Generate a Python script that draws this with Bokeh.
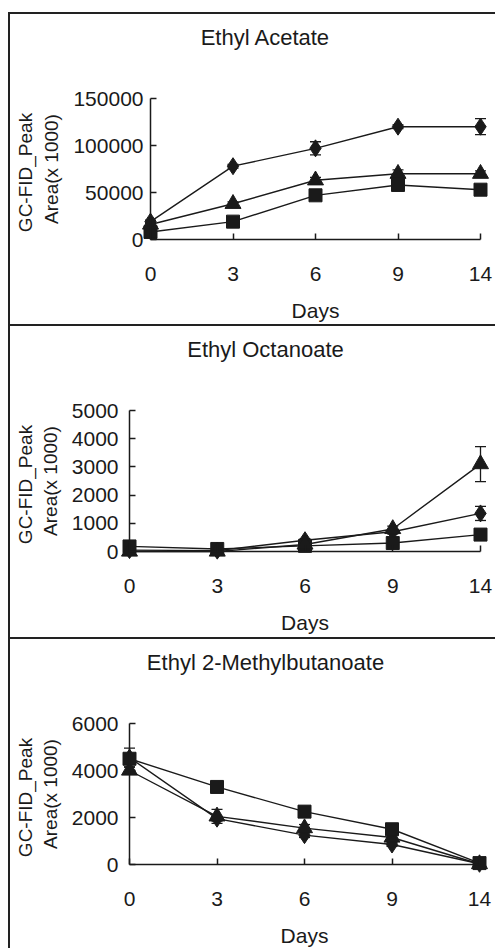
import math
from bokeh.plotting import figure
from bokeh.models import (LinearAxis, FixedTicker, BasicTickFormatter, Range1d,
                          ColumnDataSource, Whisker, TeeHead, Div, Spacer, Label)
from bokeh.layouts import column, row
from bokeh.embed import file_html
from bokeh.resources import INLINE

# ---------------- data ----------------
days = ["0", "3", "6", "9", "14"]

acet_diamond = [19000, 78000, 97000, 120000, 120000]
acet_diamond_err = [1500, 2000, 7000, 2000, 8500]
acet_triangle = [16000, 38000, 63000, 70000, 70000]
acet_triangle_err = [1000, 2000, 3000, 4000, 3000]
acet_square = [8000, 19000, 47000, 58000, 53000]
acet_square_err = [1000, 1000, 2000, 2000, 2000]
acet_yticks = [0, 50000, 100000, 150000]

oct_diamond = [50, 30, 400, 700, 1350]
oct_diamond_err = [20, 20, 50, 80, 250]
oct_triangle = [0, 0, 250, 800, 3100]
oct_triangle_err = [10, 10, 50, 100, 620]
oct_square = [180, 90, 200, 300, 600]
oct_square_err = [20, 20, 30, 40, 60]
oct_yticks = [0, 1000, 2000, 3000, 4000, 5000]

mb_diamond = [4550, 1950, 1250, 850, 30]
mb_diamond_err = [400, 100, 100, 80, 10]
mb_triangle = [4000, 2050, 1550, 1150, 20]
mb_triangle_err = [150, 300, 150, 80, 10]
mb_square = [4500, 3300, 2250, 1500, 60]
mb_square_err = [100, 100, 80, 80, 10]
mb_yticks = [0, 2000, 4000, 6000]

titles = ["Ethyl Acetate", "Ethyl Octanoate", "Ethyl 2-Methylbutanoate"]
x_label = "Days"
y_label_lines = ["GC-FID_Peak", "Area(x 1000)"]

# ---------------- styling ----------------
FONT = "Liberation Sans"
INK = "#1a1a1a"
W = 485
OFFSET_X = 10     # figure left edge in the page
ZERO_Y = 225      # px from figure top of value 0
TOP_Y = 84        # px from figure top of top tick
SIZES = {"diamond": 17, "triangle": 16, "square": 13}


def style_axis(ax):
    ax.axis_line_color = INK
    ax.axis_line_width = 1.5
    ax.major_tick_line_color = INK
    ax.major_tick_line_width = 1.5
    ax.major_tick_in = 6
    ax.major_tick_out = 0
    ax.minor_tick_line_color = None
    ax.major_label_text_font = FONT
    ax.major_label_text_font_size = "21px"
    ax.major_label_text_color = INK
    ax.axis_label_text_font = FONT
    ax.axis_label_text_font_style = "normal"
    ax.axis_label_text_color = INK


def make_panel(title, series, yticks, height, day0_px, step_px, ylab_tick_standoff):
    ymax = yticks[-1]
    pos = list(range(len(days)))
    x0 = day0_px - OFFSET_X
    xs = (0 - x0) / step_px
    xe = (W - x0) / step_px
    scale = (ZERO_Y - TOP_Y) / ymax
    ys = (ZERO_Y - height) / scale
    ye = ZERO_Y / scale

    p = figure(width=W, height=height, output_backend="svg", toolbar_location=None,
               x_axis_location=None, y_axis_location=None,
               x_range=Range1d(xs, xe), y_range=Range1d(ys, ye),
               min_border=0)
    p.outline_line_color = None
    p.background_fill_color = "white"
    p.border_fill_color = "white"
    for g in p.grid:
        g.visible = False

    # title (screen units: from frame left / frame bottom)
    p.add_layout(Label(x=265 - OFFSET_X, y=height - 23, x_units="screen", y_units="screen",
                       text=title, text_align="center", text_baseline="middle",
                       text_font=FONT, text_font_size="22px", text_color=INK))

    xaxis = LinearAxis(fixed_location=0, bounds=(0, len(days) - 1),
                       ticker=FixedTicker(ticks=pos),
                       major_label_overrides={i: d for i, d in enumerate(days)})
    xaxis.axis_label = x_label
    style_axis(xaxis)
    xaxis.major_label_standoff = 27
    xaxis.axis_label_text_font_size = "21px"
    xaxis.axis_label_standoff = 15

    yaxis = LinearAxis(fixed_location=0, bounds=(0, ymax),
                       ticker=FixedTicker(ticks=yticks),
                       formatter=BasicTickFormatter(use_scientific=False))
    yaxis.axis_label = y_label_lines[1]
    style_axis(yaxis)
    yaxis.major_label_standoff = ylab_tick_standoff
    yaxis.axis_label_text_font_size = "19px"
    yaxis.axis_label_standoff = 8

    p.add_layout(xaxis, "below")
    p.add_layout(yaxis, "left")

    # outer line of the two-line y label
    p.add_layout(Label(x=25 - OFFSET_X, y=height - 158,
                       x_units="screen", y_units="screen",
                       text=y_label_lines[0], angle=math.pi / 2,
                       text_align="center", text_baseline="middle",
                       text_font=FONT, text_font_size="19px", text_color=INK))

    for marker, vals, errs in series:
        src = ColumnDataSource(dict(x=pos, y=vals,
                                    upper=[v + e for v, e in zip(vals, errs)],
                                    lower=[v - e for v, e in zip(vals, errs)]))
        w = Whisker(source=src, base="x", upper="upper", lower="lower",
                    line_color=INK, line_width=1.3,
                    upper_head=TeeHead(size=11, line_color=INK, line_width=1.3),
                    lower_head=TeeHead(size=11, line_color=INK, line_width=1.3))
        p.add_layout(w)
        p.line("x", "y", source=src, line_color=INK, line_width=1.4)
        p.scatter("x", "y", source=src, marker=marker, size=SIZES[marker],
                  fill_color=INK, line_color=INK)
    return p


p1 = make_panel(titles[0], [("square", acet_square, acet_square_err),
                            ("triangle", acet_triangle, acet_triangle_err),
                            ("diamond", acet_diamond, acet_diamond_err)],
                acet_yticks, 310, 150, 82.5, 7)
p2 = make_panel(titles[1], [("diamond", oct_diamond, oct_diamond_err),
                            ("square", oct_square, oct_square_err),
                            ("triangle", oct_triangle, oct_triangle_err)],
                oct_yticks, 311, 129, 87.75, 11)
p3 = make_panel(titles[2], [("diamond", mb_diamond, mb_diamond_err),
                            ("triangle", mb_triangle, mb_triangle_err),
                            ("square", mb_square, mb_square_err)],
                mb_yticks, 311, 129, 87.5, 11)


def hline():
    return Div(text="", width=W, height=2, margin=0,
               styles={"background-color": "#222"})


right = column(hline(), p1, hline(), p2, hline(), p3, spacing=0)
left = row(Spacer(width=8, height=936, margin=0),
           Div(text="", width=2, height=936, margin=0, styles={"background-color": "#222"}),
           right, spacing=0)
layout = column(Spacer(width=495, height=12, margin=0), left, spacing=0)

open("out.html", "w").write(file_html(layout, INLINE))
